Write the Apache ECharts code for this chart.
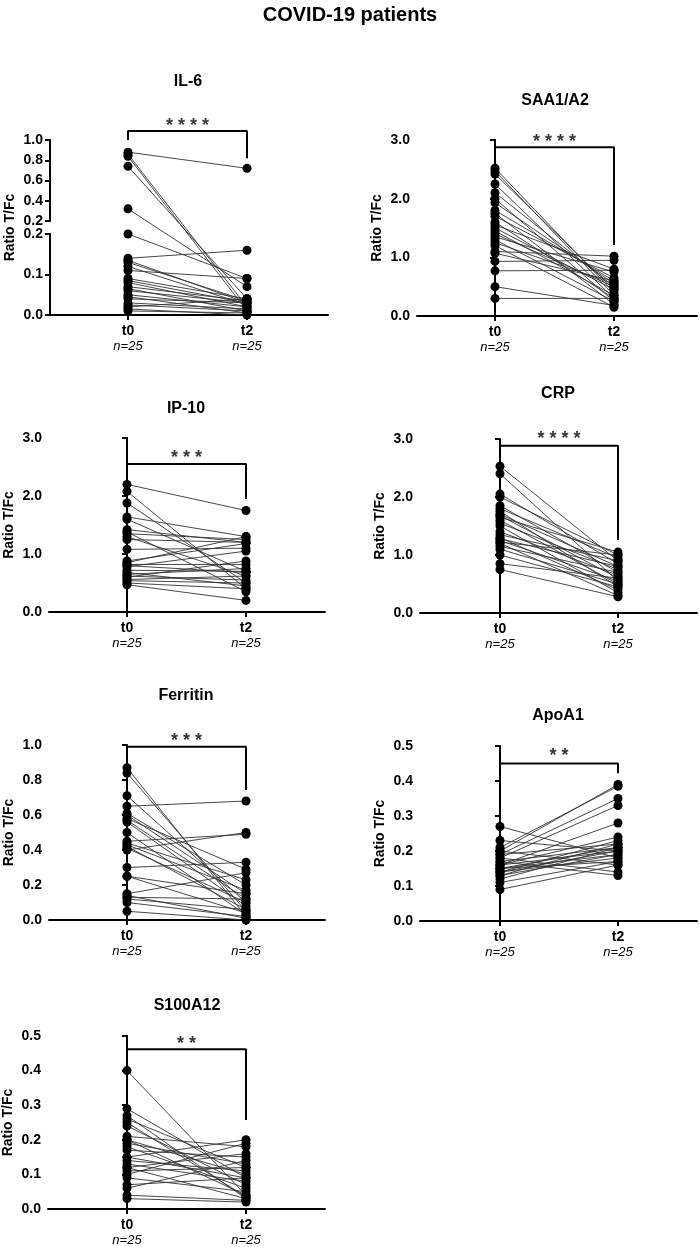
<!DOCTYPE html>
<html><head><meta charset="utf-8">
<script src="https://cdn.jsdelivr.net/npm/echarts@6/dist/echarts.min.js"></script>
<style>html,body{margin:0;padding:0;background:#fff}#c{width:700px;height:1247px}</style>
</head><body><div id="c"></div>
<script>
// ---------- DATA ----------
const mainTitle = 'COVID-19 patients';
const timeLabels = ['t0', 't2'];
const nLabels = ['n=25', 'n=25'];
const yName = 'Ratio T/Fc';

const il6T0 = [0.88,0.86,0.84,0.74,0.32,0.20,0.14,0.135,0.13,0.12,0.11,0.09,0.085,0.08,0.07,0.065,0.06,0.05,0.045,0.04,0.03,0.025,0.02,0.015,0.01];
const il6T2 = [0.72,0.02,0.01,0.04,0.07,0.09,0.16,0.03,0.035,0.025,0.09,0.04,0.03,0.02,0.035,0.01,0.03,0.02,0.005,0.03,0.015,0.01,0.04,0.0,0.005];
const il6Sig = '****';

const saaT0 = [2.52,2.47,2.42,2.25,2.10,2.00,1.93,1.80,1.75,1.70,1.60,1.55,1.50,1.45,1.40,1.35,1.30,1.25,1.20,1.10,1.07,0.93,0.77,0.50,0.30];
const saaT2 = [0.40,0.35,0.45,0.30,0.50,0.25,0.55,0.60,0.20,0.65,0.30,0.80,0.45,0.35,0.50,0.75,0.25,0.55,0.15,1.02,0.60,0.95,0.78,0.18,0.30];
const saaSig = '****';

const ip10T0 = [2.20,2.08,1.88,1.64,1.60,1.42,1.38,1.35,1.30,1.25,1.08,0.88,0.85,0.82,0.80,0.78,0.72,0.68,0.65,0.62,0.60,0.56,0.54,0.50,0.47];
const ip10T2 = [1.75,0.40,0.50,1.30,0.70,1.20,0.35,1.25,0.62,1.20,1.10,1.18,1.30,0.82,0.68,1.05,0.70,0.45,0.75,0.55,0.88,0.62,0.50,0.40,0.20];
const ip10Sig = '***';

const crpT0 = [2.53,2.40,2.05,2.00,1.85,1.80,1.75,1.70,1.68,1.65,1.60,1.55,1.50,1.40,1.35,1.30,1.28,1.25,1.22,1.20,1.15,1.10,1.00,0.85,0.75];
const crpT2 = [0.90,0.55,0.85,1.00,0.70,0.95,0.45,0.80,0.60,1.05,0.50,0.75,0.35,0.65,0.90,0.40,0.80,0.55,1.00,0.30,0.70,0.50,0.45,0.60,0.28];
const crpSig = '****';

const ferT0 = [0.87,0.84,0.71,0.65,0.61,0.60,0.58,0.57,0.56,0.50,0.45,0.44,0.43,0.42,0.41,0.40,0.30,0.25,0.25,0.15,0.14,0.13,0.12,0.10,0.05];
const ferT2 = [0.02,0.05,0.10,0.68,0.20,0.15,0.29,0.12,0.08,0.03,0.49,0.23,0.17,0.06,0.10,0.50,0.33,0.04,0.15,0.27,0.01,0.12,0.06,0.02,0.00];
const ferSig = '***';

const apoT0 = [0.27,0.23,0.21,0.20,0.20,0.19,0.19,0.18,0.18,0.17,0.17,0.16,0.16,0.16,0.15,0.15,0.15,0.14,0.14,0.14,0.13,0.13,0.12,0.11,0.09];
const apoT2 = [0.18,0.20,0.385,0.39,0.16,0.35,0.22,0.14,0.33,0.21,0.13,0.28,0.20,0.24,0.19,0.21,0.17,0.23,0.20,0.18,0.22,0.19,0.21,0.17,0.16];
const apoSig = '**';

const s100T0 = [0.40,0.29,0.27,0.26,0.25,0.24,0.21,0.20,0.20,0.19,0.18,0.17,0.15,0.15,0.14,0.13,0.12,0.12,0.11,0.10,0.09,0.07,0.06,0.04,0.03];
const s100T2 = [0.04,0.09,0.03,0.12,0.035,0.07,0.18,0.10,0.04,0.13,0.06,0.15,0.09,0.20,0.11,0.08,0.16,0.03,0.12,0.19,0.05,0.09,0.14,0.025,0.02];
const s100Sig = '**';

// ---------- LAYOUT (pixels) ----------
const FONT = "'Liberation Sans', Arial, Helvetica, sans-serif";
const panels = [
  {name:'IL-6', t0:il6T0, t2:il6T2, sig:il6Sig, broken:true,
   L:{left:50,t0:128,t2:247,right:328,top:140,upBottom:221,lowTop:234,bottom:315,titleX:188,titleY:83},
   br:{l:1.0, top:1.089, r:0.82, star:1.19}},
  {name:'SAA1/A2', t0:saaT0, t2:saaT2, sig:saaSig, max:3, interval:1,
   L:{left:417,t0:495,t2:614,right:697,top:140,bottom:316,titleX:555,titleY:102},
   br:{l:2.68, top:2.876, r:1.21, star:3.05}},
  {name:'IP-10', t0:ip10T0, t2:ip10T2, sig:ip10Sig, max:3, interval:1,
   L:{left:49,t0:127,t2:246,right:325,top:438,bottom:612,titleX:186,titleY:410},
   br:{l:2.40, top:2.55, r:1.95, star:2.74}},
  {name:'CRP', t0:crpT0, t2:crpT2, sig:crpSig, max:3, interval:1,
   L:{left:420,t0:500,t2:618,right:697,top:439,bottom:613,titleX:558,titleY:395},
   br:{l:2.725, top:2.885, r:1.26, star:3.09}},
  {name:'Ferritin', t0:ferT0, t2:ferT2, sig:ferSig, max:1, interval:0.2,
   L:{left:49,t0:127,t2:246,right:325,top:745,bottom:920,titleX:186,titleY:697},
   br:{l:0.933, top:0.99, r:0.743, star:1.05}},
  {name:'ApoA1', t0:apoT0, t2:apoT2, sig:apoSig, max:0.5, interval:0.1,
   L:{left:420,t0:500,t2:618,right:697,top:746,bottom:921,titleX:558,titleY:717},
   br:{l:0.30, top:0.45, r:0.422, star:0.486}},
  {name:'S100A12', t0:s100T0, t2:s100T2, sig:s100Sig, max:0.5, interval:0.1,
   L:{left:48,t0:127,t2:246,right:325,top:1036,bottom:1211,titleX:187,titleY:1007},
   br:{l:0.433, top:0.462, r:0.257, star:0.49}}
];

// ---------- BUILD ----------
const grids=[], xAxes=[], yAxes=[], series=[];
const titles=[{text:mainTitle, left:350, top:5, textAlign:'center', padding:0,
  textStyle:{fontFamily:FONT, fontSize:20, fontWeight:'bold', color:'#000'}}];

const axisLineS = {show:true, lineStyle:{color:'#000', width:2}};
const tickS = {show:true, length:5, lineStyle:{color:'#000', width:2}};
const yLabelS = {color:'#000', fontFamily:FONT, fontSize:14, fontWeight:'bold', margin:7,
  formatter:v=>Number(v).toFixed(1)};
const nameTS = {color:'#000', fontFamily:FONT, fontSize:14, fontWeight:'bold'};

function xAxisDef(gi, L) {
  const s = L.t2 - L.t0;
  return {gridIndex:gi, type:'value', min:-(L.t0-L.left)/s, max:(L.right-L.t0)/s,
    splitLine:{show:false}, axisLine:axisLineS,
    axisTick:Object.assign({customValues:[0,1]}, tickS),
    axisLabel:{customValues:[0,1], margin:9,
      formatter:v=>{const i=Math.round(v); return '{a|'+timeLabels[i]+'}\n{b|'+nLabels[i]+'}';},
      rich:{a:{fontFamily:FONT,fontSize:14,fontWeight:'bold',color:'#000',lineHeight:15,align:'center'},
            b:{fontFamily:FONT,fontSize:13,fontStyle:'italic',color:'#000',lineHeight:15,align:'center'}}}};
}
function hiddenX(gi){ return {gridIndex:gi, type:'value', show:false, min:0, max:1}; }

function addData(gi, t0, t2, f) {
  const pts = [];
  for (let i=0;i<t0.length;i++){
    series.push({type:'line', xAxisIndex:gi, yAxisIndex:gi, data:[[0,f(t0[i])],[1,f(t2[i])]],
      showSymbol:false, symbol:'none', silent:true, animation:false, z:2,
      lineStyle:{color:'#333', width:0.9}});
    pts.push([0,f(t0[i])]); pts.push([1,f(t2[i])]);
  }
  series.push({type:'scatter', xAxisIndex:gi, yAxisIndex:gi, data:pts, symbol:'circle', symbolSize:9,
    itemStyle:{color:'#000', opacity:1}, silent:true, animation:false, z:4});
}
function addBracket(gi, br, f, sig) {
  series.push({type:'line', xAxisIndex:gi, yAxisIndex:gi, clip:false, symbol:'none', silent:true, animation:false, z:4,
    data:[[0,f(br.l)],[0,f(br.top)],[1,f(br.top)],[1,f(br.r)]], lineStyle:{color:'#000', width:2}});
  series.push({type:'scatter', xAxisIndex:gi, yAxisIndex:gi, clip:false, symbolSize:0, silent:true, animation:false, z:4,
    data:[[0.5,f(br.star)]],
    label:{show:true, position:'inside', offset:[0,5], formatter:()=>sig.split('').join(' '),
      fontFamily:FONT, fontSize:18, fontWeight:'bold', color:'#000'}});
}
function addTitle(p){
  titles.push({text:p.name, left:p.L.titleX, top:p.L.titleY-9, textAlign:'center', padding:0,
    textStyle:{fontFamily:FONT, fontSize:16, fontWeight:'bold', color:'#000'}});
}

panels.forEach(p=>{
  const L = p.L;
  addTitle(p);
  if (!p.broken) {
    const gi = grids.length;
    grids.push({left:L.left, top:L.top, width:L.right-L.left, height:L.bottom-L.top});
    xAxes.push(xAxisDef(gi, L));
    yAxes.push({gridIndex:gi, type:'value', min:0, max:p.max, interval:p.interval,
      splitLine:{show:false}, axisLine:axisLineS, axisTick:tickS, axisLabel:yLabelS,
      name:yName, nameLocation:'middle', nameGap:33, nameTextStyle:nameTS});
    addData(gi, p.t0, p.t2, v=>v);
    addBracket(gi, p.br, v=>v, p.sig);
  } else {
    // broken axis: upper segment 0.2-1.0, lower segment 0-0.2, one data grid spanning both
    const lowH = L.bottom-L.lowTop, upH = L.upBottom-L.top, gapH = L.lowTop-L.upBottom;
    const ppu = lowH/0.2;
    const T = v => v<=0.2 ? v : 0.2 + gapH/ppu + (v-0.2)*(upH/0.8)/ppu;
    const Tmax = (L.bottom-L.top)/ppu;
    let gi = grids.length;
    grids.push({left:L.left, top:L.top, width:L.right-L.left, height:upH});
    xAxes.push(hiddenX(gi));
    yAxes.push({gridIndex:gi, type:'value', min:0.2, max:1.0, interval:0.2, z:5,
      splitLine:{show:false}, axisLine:axisLineS, axisTick:tickS, axisLabel:yLabelS});
    gi = grids.length;
    grids.push({left:L.left, top:L.lowTop, width:L.right-L.left, height:lowH});
    xAxes.push(hiddenX(gi));
    yAxes.push({gridIndex:gi, type:'value', min:0, max:0.2, interval:0.1, z:5,
      splitLine:{show:false}, axisLine:axisLineS, axisTick:tickS, axisLabel:yLabelS});
    gi = grids.length;
    grids.push({left:L.left, top:L.top, width:L.right-L.left, height:L.bottom-L.top});
    xAxes.push(xAxisDef(gi, L));
    yAxes.push({gridIndex:gi, type:'value', min:0, max:Tmax, show:true,
      axisLine:{show:false}, axisTick:{show:false}, axisLabel:{show:false}, splitLine:{show:false},
      name:yName, nameLocation:'middle', nameGap:33, nameTextStyle:nameTS});
    addData(gi, p.t0, p.t2, T);
    series.push({type:'line', xAxisIndex:gi, yAxisIndex:gi, data:[[0,0]], symbol:'none', showSymbol:false,
      lineStyle:{opacity:0}, silent:true, animation:false, z:3,
      markArea:{silent:true, itemStyle:{color:'#fff'},
        data:[[{yAxis:0.2+0.4/ppu},{yAxis:0.2+(gapH-0.4)/ppu}]]}});
    addBracket(gi, p.br, T, p.sig);
  }
});

const chart = echarts.init(document.getElementById('c'), null, {renderer:'canvas', width:700, height:1247});
chart.setOption({backgroundColor:'#fff', animation:false, title:titles, grid:grids, xAxis:xAxes, yAxis:yAxes, series:series});
</script></body></html>
